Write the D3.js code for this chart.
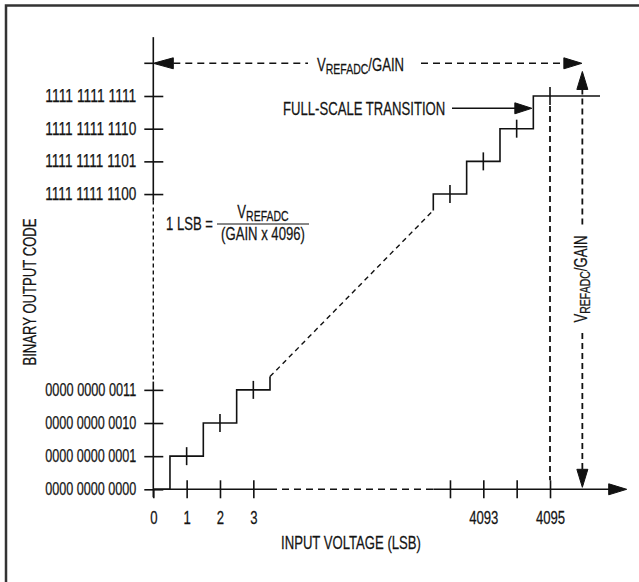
<!DOCTYPE html>
<html><head><meta charset="utf-8">
<script src="https://cdn.jsdelivr.net/npm/d3@7"></script>
<style>
html,body{margin:0;padding:0;background:#fff;}
svg{display:block;}
text{font-family:"Liberation Sans","Arial",sans-serif;fill:#141414;stroke:#141414;stroke-width:0.25px;}
</style></head><body>
<svg id="chart" width="639" height="582"></svg>
<script>
// ---- data ----
const lowCodes = [0, 1, 2, 3];
const highCodes = [4092, 4093, 4094, 4095];
const codeLabels = ["0000 0000 0000","0000 0000 0001","0000 0000 0010","0000 0000 0011",
                    "1111 1111 1100","1111 1111 1101","1111 1111 1110","1111 1111 1111"];
const xTickValues = [0, 1, 2, 3, 4092, 4093, 4094, 4095];
const xTickLabels = ["0", "1", "2", "3", "", "4093", "", "4095"];
const fullScaleCode = 4096;            // VREFADC/GAIN
const breakLow = 3.5, breakHigh = 4091.5;
const xLabel = "INPUT VOLTAGE (LSB)";
const yLabel = "BINARY OUTPUT CODE";
const fullScaleText = "FULL-SCALE TRANSITION";

// ---- scales (broken axes) ----
const x = d3.scaleLinear().domain([0, breakLow, breakHigh, 4097.3]).range([153.3, 270, 433.3, 626.7]);
const y = d3.scaleLinear().domain([0, breakLow, breakHigh, fullScaleCode]).range([489.3, 373.3, 210.4, 63.3]);

const svg = d3.select("#chart");
const ink = "#111";
const FS = 17.5;
const CONDENSE = 0.75;

// frame
svg.append("rect").attr("x", 6).attr("y", 5.5).attr("width", 640).attr("height", 590)
  .attr("fill", "none").attr("stroke", "#333").attr("stroke-width", 2.5);

function seg(p, dash, w) {
  return svg.append("path").attr("d", d3.line()(p)).attr("fill", "none")
    .attr("stroke", ink).attr("stroke-width", w || 1.6)
    .attr("stroke-dasharray", dash || null);
}
function arrow(tip, dir, len, hw) {
  len = len || 18; hw = hw || 5.5;
  const [tx, ty] = tip, [dx, dy] = dir;
  const bx = tx - dx * len, by = ty - dy * len;
  const px = -dy, py = dx;
  svg.append("path").attr("d", d3.line()([[tx, ty], [bx + px * hw, by + py * hw], [bx - px * hw, by - py * hw]]) + "Z")
    .attr("fill", ink).attr("stroke", ink).attr("stroke-width", 1);
}

// ---- y axis ----
const yAxis = d3.axisLeft(y).tickValues(lowCodes.concat(highCodes))
  .tickFormat((d, i) => codeLabels[i]).tickSize(9).tickPadding(8);
const gy = svg.append("g").attr("transform", `translate(${x(0)},0)`).call(yAxis);
gy.select(".domain").remove();
gy.selectAll(".tick line").attr("x2", -9).attr("x1", 10).attr("stroke", ink).attr("stroke-width", 1.6);
gy.selectAll(".tick text").attr("font-size", FS).attr("font-family", null).attr("fill", null)
  .attr("textLength", 91).attr("lengthAdjust", "spacingAndGlyphs").classed("fixed", true);
// axis line with break
seg([[x(0), y(4096.8)], [x(0), y(4091.8)]]);
seg([[x(0), y(4091.8)], [x(0), y(3.25)]], "4,3", 1.4);
seg([[x(0), y(3.25)], [x(0), y(0) + 8]]);
// arrow-level tick
seg([[x(0) - 9, y(fullScaleCode)], [x(0), y(fullScaleCode)]]);

// ---- x axis ----
const xAxis = d3.axisBottom(x).tickValues(xTickValues)
  .tickFormat((d, i) => xTickLabels[i]).tickSize(9).tickPadding(13);
const gx = svg.append("g").attr("transform", `translate(0,${y(0)})`).call(xAxis);
gx.select(".domain").remove();
gx.selectAll(".tick line").attr("y1", d => d === 0 ? 0 : -9).attr("y2", 9).attr("stroke", ink).attr("stroke-width", 1.6);
gx.selectAll(".tick text").attr("font-size", FS).attr("font-family", null).attr("fill", null);
seg([[x(0), y(0)], [x(breakLow), y(0)]]);
seg([[x(breakLow), y(0)], [x(breakHigh), y(0)]], "7,5", 1.4);
seg([[x(breakHigh), y(0)], [x(4097.3) - 15, y(0)]]);
arrow([x(4097.3), y(0)], [1, 0]);

// ---- staircase ----
const lowPts = [[x(0), y(0)]];
lowCodes.slice(1).forEach(c => { lowPts.push([x(c - 0.5), y(c - 1)]); lowPts.push([x(c - 0.5), y(c)]); });
lowPts.push([x(breakLow), y(3)]);
lowPts.push([x(breakLow), y(3.4)]);
seg(lowPts);
seg([[x(breakLow), y(3.4)], [x(breakHigh), y(breakHigh)]], "5,4", 1.4);
const highPts = [[x(breakHigh), y(breakHigh)]];
highCodes.forEach((c, i) => {
  highPts.push([x(c - 0.5), y(i === 0 ? breakHigh : c - 1)]);
  highPts.push([x(c - 0.5), y(c)]);
});
highPts.push([x(4096.5), y(4095)]);
seg(highPts);
// code-centre ticks on the staircase
lowCodes.slice(1).concat(highCodes).forEach(c => {
  seg([[x(c), y(c) - 9], [x(c), y(c) + 9]]);
});

// dashed vertical at 4095
seg([[x(4095), y(4095) + 10], [x(4095), y(0) - 9]], "6,4", 1.8);

// ---- top horizontal VREFADC/GAIN arrow ----
const ty = y(fullScaleCode);
arrow([x(0), ty], [-1, 0], 20);
arrow([x(4096) - 1.5, ty], [1, 0]);
seg([[x(0) + 20, ty], [308, ty]], "7,5", 1.6);
seg([[421, ty], [x(4096) - 19, ty]], "7,5", 1.6);
function vref(sel, size) {
  sel.append("tspan").text("V");
  sel.append("tspan").attr("font-size", size * 0.8).attr("dy", 3).text("REFADC");
  sel.append("tspan").attr("dy", -3).text("/GAIN");
}
const topLbl = svg.append("text").attr("x", 317).attr("y", ty + 8).attr("font-size", FS);
vref(topLbl, FS);

// ---- right vertical VREFADC/GAIN arrow ----
const vx = x(4096) - 1;
arrow([vx, y(4095.75)], [0, -1]);
arrow([vx, y(0) - 2], [0, 1]);
seg([[vx, y(4095.75) + 17], [vx, 225]], "6,4", 1.8);
seg([[vx, 333], [vx, y(0) - 19]], "6,4", 1.8);
const rl = svg.append("text").attr("transform", `translate(${vx + 5},279) rotate(-90)`)
  .attr("text-anchor", "middle").attr("font-size", FS);
vref(rl, FS);

// ---- full-scale transition ----
const fsY = 108.3;
svg.append("text").attr("x", 283).attr("y", fsY + 6.5).attr("font-size", FS).text(fullScaleText);
seg([[452, fsY], [x(4094.5) - 17, fsY]]);
arrow([x(4094.5) - 1.5, fsY], [1, 0], 17);

// ---- formula ----
svg.append("text").attr("x", 166).attr("y", 230.5).attr("font-size", FS).text("1 LSB =");
seg([[217, 224], [309, 224]], null, 1.2);
const num = svg.append("text").attr("x", 263).attr("y", 218).attr("text-anchor", "middle").attr("font-size", FS);
num.append("tspan").text("V");
num.append("tspan").attr("font-size", FS * 0.8).attr("dy", 3).text("REFADC");
svg.append("text").attr("x", 263).attr("y", 240).attr("text-anchor", "middle").attr("font-size", FS).text("(GAIN x 4096)");

// ---- axis titles ----
svg.append("text").attr("x", 351).attr("y", 549).attr("text-anchor", "middle").attr("font-size", FS).text(xLabel);
svg.append("text").attr("transform", "translate(36,292) rotate(-90)").attr("text-anchor", "middle").attr("font-size", FS).text(yLabel);

// condensed type (Helvetica Condensed look): squeeze labels horizontally about their anchor
svg.selectAll("text:not(.fixed)").each(function () {
  const el = d3.select(this);
  const ax = +(el.attr("x") || 0);
  const prev = el.attr("transform") || "";
  el.attr("transform", `${prev} translate(${ax},0) scale(${CONDENSE},1) translate(${-ax},0)`);
});
</script>
</body></html>
